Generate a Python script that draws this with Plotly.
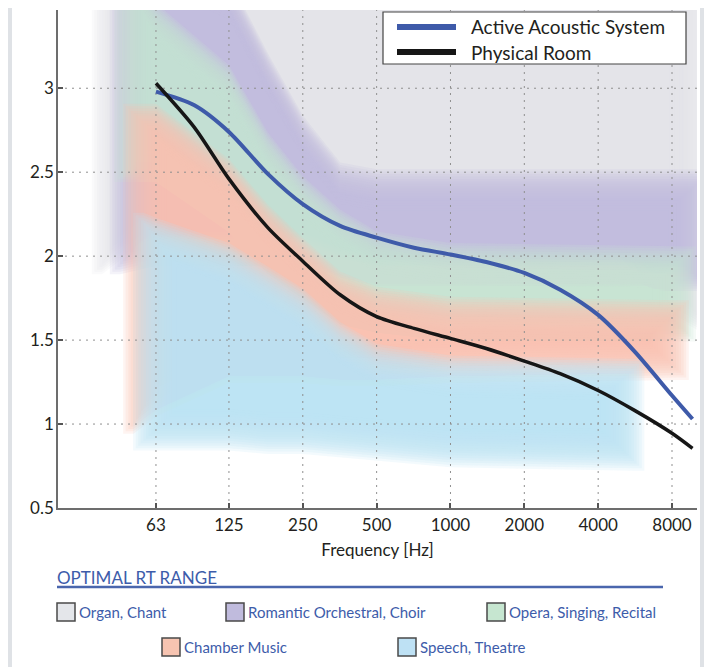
import numpy as np
import plotly.graph_objects as go

# axis ticks
FREQ_TICKS = [63, 125, 250, 500, 1000, 2000, 4000, 8000]
RT_TICKS = [0.5, 1, 1.5, 2, 2.5, 3]
RT_TICK_TEXT = ["0.5", "1", "1.5", "2", "2.5", "3"]

# measured curves
CURVE_FREQ = [63, 90, 125, 180, 250, 355, 500, 710, 1000, 1400, 2000, 2800, 4000, 5650, 8000, 9700]
ACTIVE_RT = [2.98, 2.9, 2.74, 2.49, 2.31, 2.18, 2.11, 2.05, 2.01, 1.965, 1.9, 1.8, 1.65, 1.43, 1.17, 1.03]
PHYSICAL_RT = [3.03, 2.77, 2.46, 2.17, 1.97, 1.77, 1.64, 1.57, 1.51, 1.45, 1.375, 1.3, 1.2, 1.08, 0.945, 0.855]

# optimal RT ranges (soft bands)
BAND_NAMES = ["Organ, Chant", "Romantic Orchestral, Choir", "Opera, Singing, Recital",
              "Chamber Music", "Speech, Theatre"]
BAND_COLORS = ["#e4e6ea", "#c0bbdd", "#c6e6d0", "#f7c4b1", "#bee1f4"]

ORGAN_FREQ = [38, 63, 4000, 8000, 10700]
ORGAN_LOW = [1.95, 2.2, 2.2, 1.7, 1.6]
ORGAN_HIGH = [3.8, 3.8, 3.8, 3.8, 3.8]

ROMANTIC_FREQ = [45, 63, 125, 180, 250, 355, 500, 10600]
ROMANTIC_LOW = [1.95, 2.0, 2.0, 2.0, 2.0, 1.9, 1.85, 1.85]
ROMANTIC_HIGH = [3.8, 3.8, 3.6, 3.15, 2.78, 2.5, 2.46, 2.46]

OPERA_FREQ = [47, 63, 125, 180, 250, 355, 500, 1000, 9100]
OPERA_LOW = [2.5, 2.5, 2.2, 1.95, 1.8, 1.65, 1.6, 1.55, 1.55]
OPERA_HIGH = [3.7, 3.45, 3.08, 2.68, 2.42, 2.22, 2.09, 2.02, 2.0]

CHAMBER_FREQ = [51, 63, 125, 180, 250, 355, 500, 1000, 8500]
CHAMBER_LOW = [1.0, 1.1, 1.3, 1.3, 1.3, 1.28, 1.28, 1.3, 1.32]
CHAMBER_HIGH = [2.85, 2.85, 2.52, 2.25, 2.05, 1.85, 1.76, 1.7, 1.68]

SPEECH_FREQ = [56, 63, 125, 180, 250, 355, 500, 1000, 5600]
SPEECH_LOW = [0.9, 0.9, 0.9, 0.88, 0.88, 0.86, 0.84, 0.8, 0.78]
SPEECH_HIGH = [2.2, 2.17, 2.02, 1.88, 1.75, 1.55, 1.42, 1.35, 1.33]

BANDS = [
    (ORGAN_FREQ, ORGAN_LOW, ORGAN_HIGH),
    (ROMANTIC_FREQ, ROMANTIC_LOW, ROMANTIC_HIGH),
    (OPERA_FREQ, OPERA_LOW, OPERA_HIGH),
    (CHAMBER_FREQ, CHAMBER_LOW, CHAMBER_HIGH),
    (SPEECH_FREQ, SPEECH_LOW, SPEECH_HIGH),
]

LINE_NAMES = ["Active Acoustic System", "Physical Room"]
LINE_COLORS = ["#3e5aa9", "#161616"]

X_RANGE = [1.40, 4.005]   # log10 Hz
Y_RANGE = [0.5, 3.466]

# page geometry (screen pixels); the html body adds an 8px margin
W, H, BODY = 712, 667, 8
PL, PR, PT, PB = 58, 697, 10, 508   # plot area in screen pixels


def px(x):
    return (x - PL) / (PR - PL)


def py(y):
    return (PB - y) / (PB - PT)


def rgba(hex_color, a):
    h = hex_color.lstrip("#")
    r, g, b = int(h[0:2], 16), int(h[2:4], 16), int(h[4:6], 16)
    return f"rgba({r},{g},{b},{a})"


def soft_band(fig, freq, low, high, color, steps=18, dy=0.0145, dx=0.0105, alpha=0.18):
    # stack of nested polygons -> blurred edge
    lx = np.log10(freq)
    for i in range(steps):
        k = i - 4
        a, b = lx[0] + k * dx, lx[-1] - k * dx
        grid = np.concatenate([[a], lx[(lx > a) & (lx < b)], [b]])
        lo = np.interp(grid, lx, low) + k * dy
        hi = np.interp(grid, lx, high) - k * dy
        xs = 10 ** np.concatenate([grid, grid[::-1]])
        ys = np.concatenate([hi, lo[::-1]])
        fig.add_trace(go.Scatter(x=xs, y=ys, mode="lines", fill="toself",
                                 fillcolor=rgba(color, alpha),
                                 line=dict(width=0, color="rgba(0,0,0,0)"),
                                 hoverinfo="skip", showlegend=False))


fig = go.Figure()

for (f, lo, hi), col in zip(BANDS, BAND_COLORS):
    soft_band(fig, f, lo, hi, col)

# dotted grid above the bands
gx, gy = [], []
for f in FREQ_TICKS:
    gx += [f, f, None]
    gy += [Y_RANGE[0], Y_RANGE[1], None]
for r in RT_TICKS[1:]:
    gx += [10 ** X_RANGE[0], 10 ** X_RANGE[1], None]
    gy += [r, r, None]
fig.add_trace(go.Scatter(x=gx, y=gy, mode="lines",
                         line=dict(color="#8f8f8f", width=1, dash="2px,5px"),
                         hoverinfo="skip", showlegend=False))

for name, col, rt, w in zip(LINE_NAMES, LINE_COLORS, [ACTIVE_RT, PHYSICAL_RT], [4, 3.5]):
    fig.add_trace(go.Scatter(x=CURVE_FREQ, y=rt, mode="lines", name=name, showlegend=False,
                             line=dict(color=col, width=w, shape="spline", smoothing=0.8)))

font = "Lato, 'Open Sans', sans-serif"
blue_txt = "#3d5caa"

axis_common = dict(showline=True, linecolor="#6d6d6d", linewidth=1.5, ticks="inside",
                   ticklen=5, tickwidth=1.5, tickcolor="#555", showgrid=False, zeroline=False,
                   automargin=False, layer="above traces",
                   tickfont=dict(size=17, color="#231f20", family=font))

fig.update_xaxes(type="log", range=X_RANGE, tickvals=FREQ_TICKS,
                 ticktext=[str(v) for v in FREQ_TICKS], ticklabelstandoff=1,
                 title=dict(text="Frequency [Hz]", font=dict(size=17, color="#231f20", family=font),
                            standoff=10),
                 **axis_common)
fig.update_yaxes(range=Y_RANGE, tickvals=RT_TICKS, ticktext=RT_TICK_TEXT,
                 ticklabelstandoff=-1, **axis_common)

shapes = [dict(type="rect", xref="paper", yref="paper", x0=px(12), x1=px(700),
               y0=py(H), y1=py(0), fillcolor="white", line=dict(width=0), layer="below"),
          dict(type="line", xref="paper", yref="paper", x0=px(57), x1=px(663),
               y0=py(587), y1=py(587), line=dict(color="#4a66ad", width=2.5))]
annotations = [dict(text="OPTIMAL RT RANGE", xref="paper", yref="paper", x=px(55), y=py(577),
                    xanchor="left", yanchor="middle", showarrow=False,
                    font=dict(size=17, color=blue_txt, family=font))]

# line legend box (top right)
shapes.append(dict(type="rect", xref="paper", yref="paper", x0=px(383), x1=px(686),
                   y0=py(64), y1=py(12), fillcolor="white", line=dict(color="#444", width=1.2)))
for i, (name, col) in enumerate(zip(LINE_NAMES, LINE_COLORS)):
    ly = 27 + 25 * i
    shapes.append(dict(type="line", xref="paper", yref="paper", x0=px(397), x1=px(456),
                       y0=py(ly), y1=py(ly), line=dict(color=col, width=6)))
    annotations.append(dict(text=name, xref="paper", yref="paper", x=px(469), y=py(ly),
                            xanchor="left", yanchor="middle", showarrow=False,
                            font=dict(size=19, color="#231f20", family=font)))

# key for band swatches (screen pixel positions)
key_x = [57, 226, 487, 162, 398]
key_y = [612, 612, 612, 647, 647]
for name, col, kx, ky in zip(BAND_NAMES, BAND_COLORS, key_x, key_y):
    shapes.append(dict(type="rect", xref="paper", yref="paper", x0=px(kx), x1=px(kx + 18),
                       y0=py(ky + 9), y1=py(ky - 9), fillcolor=col,
                       line=dict(color="#4a4a4a", width=1.5)))
    annotations.append(dict(text=name, xref="paper", yref="paper", x=px(kx + 20), y=py(ky),
                            xanchor="left", yanchor="middle", showarrow=False,
                            font=dict(size=15, color=blue_txt, family=font)))

fig.update_layout(
    width=W - BODY, height=H - BODY,
    margin=dict(l=PL - BODY, r=W - PR, t=PT - BODY, b=H - PB),
    paper_bgcolor="#dfe2e6", plot_bgcolor="white",
    font=dict(family=font, color="#231f20"),
    shapes=shapes, annotations=annotations,
    showlegend=False,
)

fig.write_html("out.html")
